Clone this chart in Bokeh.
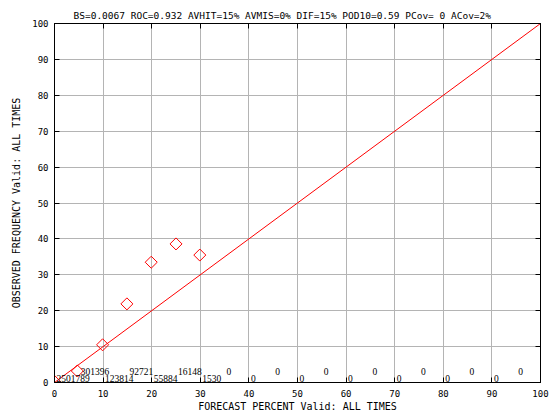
from bokeh.plotting import figure
from bokeh.models import (Range1d, FixedTicker, LinearAxis, ColumnDataSource,
                          LabelSet, Title, Grid, CustomJSTickFormatter)
from bokeh.embed import file_html
from bokeh.resources import INLINE
import math

# ---- data ----
title_text = "BS=0.0067 ROC=0.932 AVHIT=15% AVMIS=0% DIF=15% POD10=0.59 PCov= 0 ACov=2%"
x_title = "FORECAST PERCENT Valid: ALL TIMES"
y_title = "OBSERVED FREQUENCY Valid: ALL TIMES"
ticks = [0, 10, 20, 30, 40, 50, 60, 70, 80, 90, 100]

fcst_pct = [0, 4.7, 9.9, 14.9, 19.9, 25.0, 29.9]
obs_freq = [0.3, 3.2, 10.5, 21.9, 33.5, 38.6, 35.5]

diag_x = [0, 100]
diag_y = [0, 100]

even_bins = [0, 10, 20, 30, 40, 50, 60, 70, 80, 90, 100]
even_counts = ["2501789", "123814", "55884", "1530", "0", "0", "0", "0", "0", "0", "0"]
odd_bins = [5, 15, 25, 35, 45, 55, 65, 75, 85, 95]
odd_counts = ["301396", "92721", "16148", "0", "0", "0", "0", "0", "0", "0"]

FONT = "DejaVu Sans Mono"

p = figure(frame_width=486, frame_height=359,
           min_border_left=54, min_border_right=12, min_border_top=23, min_border_bottom=35,
           x_range=Range1d(0, 100), y_range=Range1d(0, 100),
           output_backend="svg", toolbar_location=None,
           x_axis_location=None, y_axis_location=None)
p.background_fill_color = "white"
p.border_fill_color = "white"
p.outline_line_color = "black"
p.outline_line_width = 1

def mk_axis(show_labels, label=None):
    ax = LinearAxis(ticker=FixedTicker(ticks=ticks, minor_ticks=[]))
    ax.major_tick_in = 5
    ax.major_tick_out = 0
    ax.minor_tick_in = 0
    ax.minor_tick_out = 0
    ax.axis_line_color = "black"
    ax.major_tick_line_color = "black"
    ax.major_label_text_font = FONT
    ax.major_label_text_font_size = "9px"
    ax.major_label_text_color = "black"
    if not show_labels:
        ax.formatter = CustomJSTickFormatter(code="return ''")
        ax.major_label_standoff = 0
    if label:
        ax.axis_label = label
        ax.axis_label_text_font = FONT
        ax.axis_label_text_font_size = "10px"
        ax.axis_label_text_font_style = "normal"
        ax.axis_label_text_color = "black"
    return ax

bx = mk_axis(True, x_title)
bx.major_label_standoff = 7
bx.axis_label_standoff = 1
p.add_layout(bx, "below")

ly = mk_axis(True, y_title)
ly.major_label_standoff = 6
ly.axis_label_standoff = 7
p.add_layout(ly, "left")

p.add_layout(mk_axis(False), "above")
p.add_layout(mk_axis(False), "right")

p.add_layout(Grid(dimension=0, ticker=FixedTicker(ticks=ticks), grid_line_color="#b4b4b4"))
p.add_layout(Grid(dimension=1, ticker=FixedTicker(ticks=ticks), grid_line_color="#b4b4b4"))

p.line(diag_x, diag_y, line_color="red", line_width=1)
p.scatter(fcst_pct, obs_freq, marker="square", size=8.5, angle=math.pi / 4,
          fill_color=None, line_color="red", line_width=1)

src_even = ColumnDataSource(dict(x=even_bins, y=[1.1] * len(even_bins), t=even_counts))
src_odd = ColumnDataSource(dict(x=odd_bins, y=[3.15] * len(odd_bins), t=odd_counts))
for src in (src_even, src_odd):
    p.add_layout(LabelSet(x="x", y="y", text="t", source=src, x_offset=2,
                          text_baseline="middle", text_align="left",
                          text_font=FONT, text_font_size="9.5px", text_color="black"))

t = Title(text=title_text, align="left", offset=19, standoff=5,
          text_font=FONT, text_font_size="9.5px", text_font_style="normal", text_color="black")
p.add_layout(t, "above")

open("out.html", "w").write(file_html(p, INLINE))
